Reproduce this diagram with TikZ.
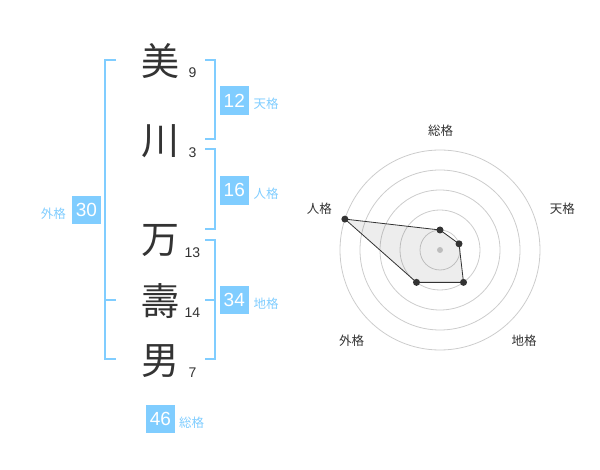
\documentclass[tikz,border=0pt]{standalone}
\usepackage{fontspec}
\setmainfont{Liberation Sans}
\newfontfamily\jp{Noto Sans CJK JP}
\definecolor{kakublue}{RGB}{128,205,255}
\definecolor{ink}{RGB}{51,51,51}
\definecolor{ring}{RGB}{204,204,204}

\tikzset{
  bracket/.style={draw=kakublue,line width=2pt},
  kakubox/.style={fill=kakublue,text=white,minimum size=28.5pt,inner sep=0pt,
    font=\fontsize{19}{19}\selectfont},
  kakulabel/.style={text=kakublue,inner sep=0pt,font=\jp\fontsize{12.5}{12.5}\selectfont},
  dot/.style={circle,fill=ink,minimum size=7pt,inner sep=0pt},
  axislabel/.style={text=ink,inner sep=0pt,font=\jp\fontsize{12.5}{12.5}\selectfont}
}

\begin{document}
\begin{tikzpicture}[x=1pt,y=-1pt]
  \useasboundingbox (0,0) rectangle (600,470);

  % name
  \begin{scope}[every node/.style={text=ink,inner sep=0pt,font=\jp\fontsize{38}{38}\selectfont}]
    \node (k1) at (160,61)  {美};
    \node (k2) at (160,141) {川};
    \node (k3) at (160,241) {万};
    \node (k4) at (160,301) {壽};
    \node (k5) at (160,361) {男};
  \end{scope}

  % strokes
  \begin{scope}[every node/.style={text=ink,inner sep=0pt,font=\fontsize{14}{14}\selectfont}]
    \node (n1) at (192.5,73)  {9};
    \node (n2) at (192.5,153) {3};
    \node (n3) at (192.5,253) {13};
    \node (n4) at (192.5,313) {14};
    \node (n5) at (192.5,373) {7};
  \end{scope}

  % brackets
  \draw[bracket] (205,60) -- (215,60) -- (215,139.5) -- (205,139.5);
  \draw[bracket] (205,149.5) -- (215,149.5) -- (215,229) -- (205,229);
  \draw[bracket] (205,240) -- (215,240) -- (215,359.5) -- (205,359.5);
  \draw[bracket] (205,300) -- (215,300);
  \draw[bracket] (116,60) -- (105,60) -- (105,359.5) -- (116,359.5);
  \draw[bracket] (105,300) -- (116,300);

  % totals
  \node[kakubox] (ten) at (234.3,100.7) {12};
  \node[kakubox] (jin) at (234.3,190.3) {16};
  \node[kakubox] (chi) at (234.3,300.2) {34};
  \node[kakubox] (gai) at (86.5,210)    {30};
  \node[kakubox] (sou) at (160.5,419)   {46};

  \node[kakulabel] (tenl) at (266,104)   {天格};
  \node[kakulabel] (jinl) at (266,193.5) {人格};
  \node[kakulabel] (chil) at (266,304)   {地格};
  \node[kakulabel] (gail) at (53.3,213.5) {外格};
  \node[kakulabel] (soul) at (191.7,422.7) {総格};

  % radar
  \begin{scope}[shift={(440,250)},yscale=-1]
    \foreach \r in {20,40,60,80,100}
      \draw[ring,line width=0.8pt] (0,0) circle[radius=\r pt];
    \node[circle,fill=ring,minimum size=6pt,inner sep=0pt] (c) at (0,0) {};
    \coordinate (psou) at (90:20);
    \coordinate (pten) at (18:20);
    \coordinate (pchi) at (-54:40);
    \coordinate (pgai) at (-126:40);
    \coordinate (pjin) at (162:100);
    \filldraw[draw=ink,line width=0.8pt,fill=black,fill opacity=0.07]
      (psou) -- (pten) -- (pchi) -- (pgai) -- (pjin) -- cycle;
    \foreach \p in {psou,pten,pchi,pgai,pjin}
      \node[dot] at (\p) {};
  \end{scope}

  \node[axislabel] (asou) at (440.7,130.7) {総格};
  \node[axislabel] (aten) at (562.3,208.3) {天格};
  \node[axislabel] (achi) at (524,341)     {地格};
  \node[axislabel] (agai) at (351.7,341)   {外格};
  \node[axislabel] (ajin) at (319.3,208.3) {人格};

\end{tikzpicture}
\end{document}
